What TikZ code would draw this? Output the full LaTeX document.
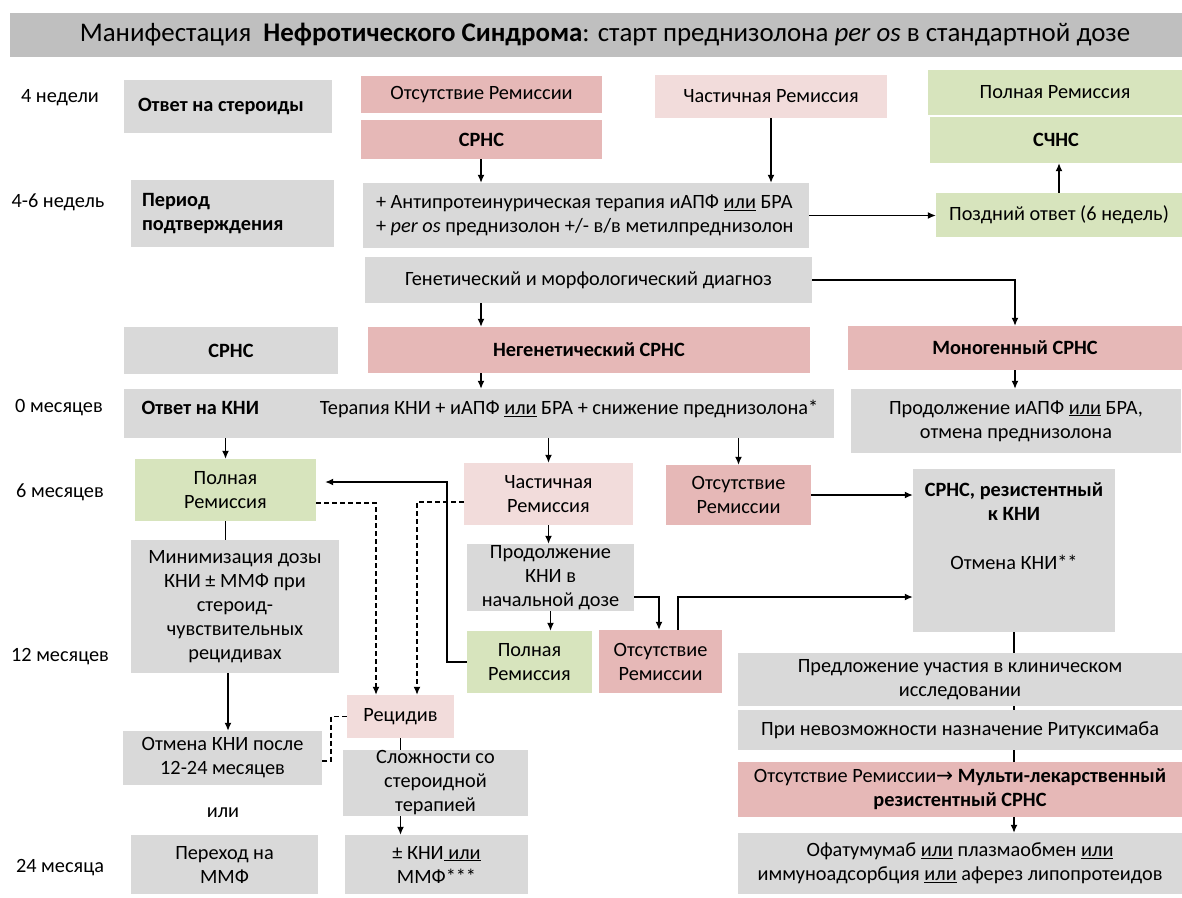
\documentclass[tikz,border=0pt]{standalone}
\usepackage{fontspec}
\setmainfont{Carlito}
\newfontfamily\arrowfont{DejaVu Sans}
\usepackage{tikz}
\usetikzlibrary{%
  calc,%
  arrows.meta%
}
\definecolor{boxgrey}{HTML}{D9D9D9}
\definecolor{headgrey}{HTML}{BFBFBF}
\definecolor{norem}{HTML}{E6B8B7}
\definecolor{partrem}{HTML}{F2DCDB}
\definecolor{fullrem}{HTML}{D7E4BD}
\tikzset{
  box/.style={inner sep=0pt,align=center,text=black},
  wh/.style 2 args={minimum width=#1pt,minimum height=#2pt},
  grey/.style={box,fill=boxgrey},
  nrem/.style={box,fill=norem},
  prem/.style={box,fill=partrem},
  frem/.style={box,fill=fullrem},
  conn/.style={line width=1.3pt},
  arr/.style={conn,-{Latex[length=8pt,width=7pt]}},
  dconn/.style={conn,dash pattern=on 5pt off 3pt},
  darr/.style={dconn,-{Latex[length=8pt,width=7pt]}}
}

\begin{document}
\begin{tikzpicture}[x=1pt,y=-1pt,font=\fontsize{20.3}{24}\selectfont]
\useasboundingbox (0,0) rectangle (1182,897);

\node[box,fill=headgrey,wh={1172}{44},font=\fontsize{26.9}{30}\selectfont] (head) at (596,35) {\hspace*{18pt}Манифестация\ \ \textbf{Нефротического Синдрома}: старт преднизолона \textit{per os} в стандартной дозе};

\node (w4) at (60,98) {4 недели};
\node (w46) at (58,202) {4-6 недель};
\node (m0) at (59,408) {0 месяцев};
\node (m6) at (60,492) {6 месяцев};
\node (m12) at (60,657) {12 месяцев};
\node (m24) at (60,868) {24 месяца};

\node[grey,wh={208}{53},text width=180pt,align=flush left] (steroid) at (228,106.5) {\textbf{Ответ на стероиды}};
\node[nrem,wh={241}{37}] (nrem0) at (481.5,94.5) {Отсутствие Ремиссии};
\node[nrem,wh={241}{39}] (srns0) at (481.5,139.5) {\textbf{СРНС}};
\node[prem,wh={232}{43}] (prem0) at (771,96.5) {Частичная Ремиссия};
\node[frem,wh={254}{45}] (frem0) at (1055,92.5) {Полная Ремиссия};
\node[frem,wh={252}{46}] (ssns) at (1056,140) {\textbf{СЧНС}};
\node[grey,wh={203}{67},text width=181pt,align=flush left] (confirm) at (232.5,213.5) {\textbf{Период}\\\textbf{подтверждения}};
\node[grey,wh={446}{65},text width=420pt,align=flush left] (antiprot) at (586,215.5) {+ Антипротеинурическая терапия иАПФ \underline{или} БРА\\+ \textit{per os} преднизолон +/- в/в метилпреднизолон};
\node[frem,wh={246}{44}] (late) at (1059,215) {Поздний ответ (6 недель)};
\node[grey,wh={447}{46}] (genetic) at (588.5,280) {Генетический и морфологический диагноз};
\node[grey,wh={214}{47}] (srns1) at (231,350.5) {\textbf{СРНС}};
\node[nrem,wh={442}{46}] (nongen) at (589,350) {\textbf{Негенетический СРНС}};
\node[nrem,wh={334}{44}] (monogen) at (1015,348) {\textbf{Моногенный СРНС}};
\node[grey,wh={710}{49}] (cni) at (479,413.5) {};
\node[anchor=west] (cniresp) at (138,408) {\textbf{Ответ на КНИ}};
\node (cnither) at (569,409) {Терапия КНИ + иАПФ \underline{или} БРА + снижение преднизолона*};
\node[grey,wh={330}{64}] (contace) at (1016,421) {Продолжение иАПФ \underline{или} БРА,\\отмена преднизолона};
\node[frem,wh={181}{62}] (frem1) at (225.5,490) {Полная\\Ремиссия};
\node[prem,wh={169}{62}] (prem1) at (548.5,494) {Частичная\\Ремиссия};
\node[nrem,wh={145}{60}] (nrem1) at (738.5,495) {Отсутствие\\Ремиссии};
\node[grey,wh={202}{163}] (resist) at (1014,550.5) {};
\node[align=center] (resisttxt) at (1014,526) {\textbf{СРНС, резистентный}\\\textbf{к КНИ}\\[25pt]Отмена КНИ**};
\node[grey,wh={208}{133}] (minim) at (235,606.5) {Минимизация дозы\\КНИ ± ММФ при\\стероид-\\чувствительных\\рецидивах};
\node[grey,wh={167}{67}] (contcni) at (550.5,577.5) {Продолжение\\КНИ в\\начальной дозе};
\node[frem,wh={125}{62}] (frem2) at (529.5,662) {Полная\\Ремиссия};
\node[nrem,wh={123}{63}] (nrem2) at (660.5,661.5) {Отсутствие\\Ремиссии};
\node[grey,wh={444}{53}] (trial) at (960,679.5) {Предложение участия в клиническом\\исследовании};
\node[prem,wh={107}{43}] (relapse) at (400.5,716.5) {Рецидив};
\node[grey,wh={444}{40}] (ritux) at (960,730) {При невозможности назначение Ритуксимаба};
\node[grey,wh={199}{54}] (stopcni) at (222.5,758) {Отмена КНИ после\\12-24 месяцев};
\node[grey,wh={185}{66}] (complic) at (435.5,783) {Сложности со\\стероидной\\терапией};
\node[nrem,wh={444}{55}] (mdr) at (960,789.5) {Отсутствие Ремиссии{\arrowfont →} \textbf{Мульти-лекарственный}\\\textbf{резистентный СРНС}};
\node (ili) at (223,813) {или};
\node[grey,wh={187}{59}] (mmf) at (224.5,864.5) {Переход на\\ММФ};
\node[grey,wh={183}{59}] (cnimmf) at (436.5,864.5) {± КНИ\underline{ или}\\ММФ***};
\node[grey,wh={444}{61}] (ofatum) at (960,863.5) {Офатумумаб \underline{или} плазмаобмен \underline{или}\\иммуноадсорбция \underline{или} аферез липопротеидов};

\coordinate (colA) at (481,0);
\coordinate (colE) at (228,0);
\coordinate (b1) at (659,597);
\coordinate (b2) at (678,597);
\coordinate (b3) at (447,482);
\coordinate (b4) at (376,503);
\coordinate (b5) at (417,502);
\coordinate (b6) at (331,761);

\draw[arr] (srns0.south -| colA) -- (antiprot.north -| colA);
\draw[arr] (prem0.south) -- (prem0.south |- antiprot.north);
\draw[arr] (antiprot.east) -- (antiprot.east -| late.west);
\draw[arr] (late.north) -- (late.north |- ssns.south);
\draw[arr] (genetic.south -| colA) -- (nongen.north -| colA);
\draw[arr] (genetic.east) -| (monogen.north);
\draw[arr] (nongen.south -| colA) -- (cni.north -| colA);
\draw[arr] (monogen.south) -- (monogen.south |- contace.north);
\draw[arr] (cni.south -| frem1.north) -- (frem1.north);
\draw[arr] (cni.south -| prem1.north) -- (prem1.north);
\draw[arr] (cni.south -| nrem1.north) -- (nrem1.north);
\draw[arr] (nrem1.east) -- (nrem1.east -| resist.west);
\draw[arr] (prem1.south) -- (prem1.south |- contcni.north);
\draw[arr] (contcni.south) -- (contcni.south |- frem2.north);
\draw[arr] (b1 -| contcni.east) -- (b1) -- (b1 |- nrem2.north);
\draw[arr] (b2 |- nrem2.north) -- (b2) -- (b2 -| resist.west);
\draw[arr,shorten >=9pt] (frem2.west) -| (b3) -- (b3 -| frem1.east);
\draw[darr] (b4 -| frem1.east) -- (b4) -- (b4 |- relapse.north);
\draw[darr] (b5 -| prem1.west) -- (b5) -- (b5 |- relapse.north);
\draw[conn] (frem1.south) -- (frem1.south |- minim.north);
\draw[arr] (minim.south -| colE) -- (stopcni.north -| colE);
\draw[dconn] (relapse.west) -| (b6) -- (b6 -| stopcni.east);
\draw[conn] (relapse.south) -- (relapse.south |- complic.north);
\draw[arr] (relapse.south |- complic.south) -- (relapse.south |- cnimmf.north);
\draw[conn] (resist.south) -- (resist.south |- trial.north);
\draw[conn] (resist.south |- trial.south) -- (resist.south |- ritux.north);
\draw[conn] (resist.south |- ritux.south) -- (resist.south |- mdr.north);
\draw[arr] (resist.south |- mdr.south) -- (resist.south |- ofatum.north);
\end{tikzpicture}
\end{document}
